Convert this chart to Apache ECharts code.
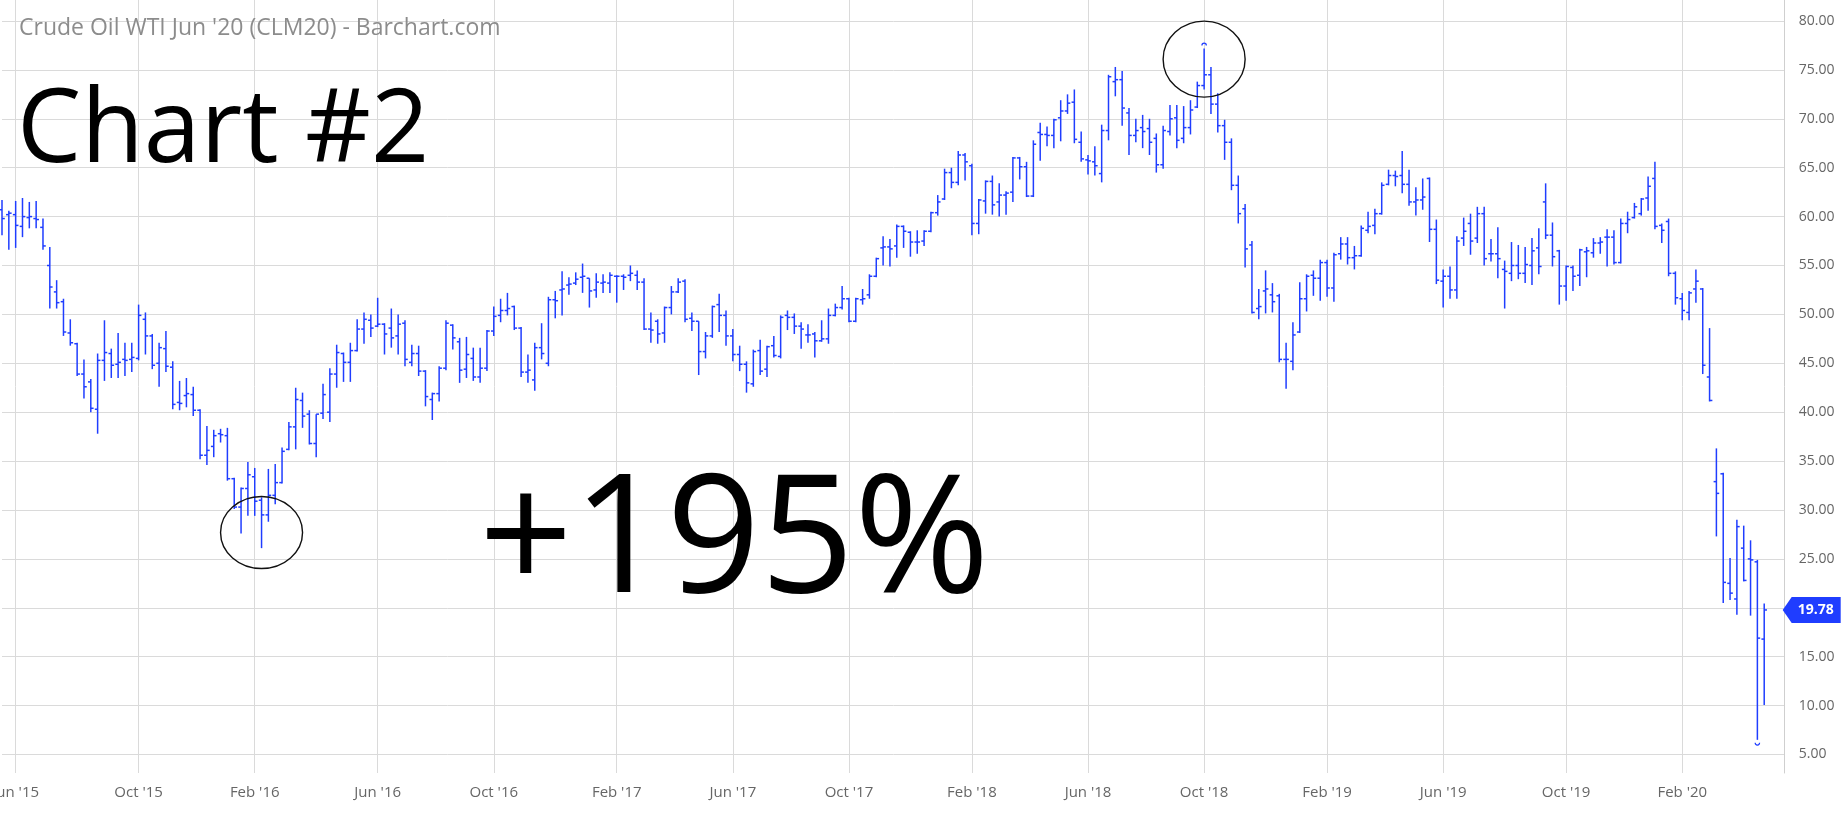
<!DOCTYPE html>
<html><head><meta charset="utf-8">
<script src="https://cdn.jsdelivr.net/npm/echarts@6/dist/echarts.min.js"></script>
<style>html,body{margin:0;padding:0;background:#fff;overflow:hidden}#c{width:1848px;height:825px}</style>
</head><body><div id="c"></div>
<script>
// ---- data (weekly OHLC, first bar = week of 2015-05-18) ----
const firstWeek = [2015, 4, 18];
const opens = [
60.7,60.2,60.2,59.0,59.9,59.8,58.9,55.0,52.3,51.3,
48.1,47.0,43.9,43.1,40.3,45.3,46.0,44.9,45.4,45.4,
45.5,49.5,47.8,45.0,46.5,44.6,41.0,41.7,41.8,40.2,
35.6,36.5,37.8,37.6,33.2,30.3,32.2,33.4,31.0,29.5,
31.5,32.8,36.2,38.5,41.2,39.8,36.8,39.9,40.0,43.9,
46.0,45.1,46.3,48.5,49.4,48.8,49.0,48.6,47.8,49.1,
45.1,46.0,44.2,41.3,41.9,44.5,48.9,47.2,44.4,45.5,
43.6,44.5,48.3,49.9,50.4,50.8,48.6,44.1,43.3,46.6,
45.0,51.5,52.5,53.0,53.2,53.8,53.7,52.5,53.2,53.2,
53.9,53.9,54.0,54.0,53.3,48.5,49.3,48.1,50.7,52.3,
53.4,49.6,49.3,46.2,47.8,51.0,49.9,47.8,45.9,44.9,
42.9,46.3,44.4,46.8,45.7,49.9,49.7,48.8,47.9,48.0,
47.3,47.5,49.9,50.7,51.6,49.3,51.5,52.0,53.9,56.8,
56.9,57.0,59.0,58.4,57.4,57.5,58.5,60.4,61.8,64.5,
63.5,66.3,65.2,59.3,61.6,63.6,61.5,62.2,62.5,66.0,
65.1,62.1,68.6,68.4,68.3,70.1,70.8,71.7,67.6,65.8,
65.6,64.4,68.8,73.8,74.0,70.6,68.3,69.1,69.0,68.0,
65.3,68.7,70.1,68.0,69.1,71.2,73.4,74.5,71.5,69.3,
67.6,63.2,60.8,57.1,50.6,52.4,52.0,51.9,45.4,45.2,
48.2,51.6,54.0,53.7,55.3,52.7,56.2,57.2,55.8,56.0,
58.6,59.1,60.3,63.3,64.2,64.2,63.3,61.5,61.7,63.9,
58.7,53.4,53.9,52.5,57.8,59.3,57.8,60.3,56.2,56.2,
54.6,54.2,55.0,54.2,55.0,56.8,61.5,58.1,56.5,52.9,
54.8,54.0,56.4,56.3,57.3,57.9,57.9,55.3,59.3,59.9,
60.3,61.9,63.9,59.1,59.5,54.2,51.6,50.2,52.6,52.6,
43.6,32.9,33.7,22.5,20.9,26.1,25.0,24.7,16.8];
const highs = [
61.7,60.6,61.6,61.9,61.5,61.6,59.8,56.9,53.5,51.6,
49.5,47.1,45.4,43.4,46.0,49.4,46.5,48.1,47.1,47.1,
51.0,50.2,48.0,47.1,48.3,45.2,43.2,43.5,42.6,40.3,
38.6,38.2,38.3,38.4,33.3,32.3,34.9,34.3,31.3,34.2,
34.7,36.4,39.0,42.5,42.0,40.2,39.8,42.9,44.5,46.9,
46.1,47.1,49.5,50.2,50.0,51.7,49.1,50.6,50.0,49.4,
46.9,46.8,44.3,42.0,44.7,49.4,49.0,47.6,47.7,46.6,
46.6,48.4,50.8,51.6,52.2,50.9,48.7,45.9,47.1,49.1,
51.8,52.4,54.4,53.8,54.3,55.2,53.7,54.2,54.1,54.3,
54.0,54.1,55.0,54.5,53.7,50.2,49.5,50.8,52.9,53.7,
53.6,50.2,49.3,48.2,50.9,52.1,50.4,48.5,46.8,45.2,
46.4,47.4,46.8,47.8,49.9,50.4,50.1,49.2,49.0,48.2,
49.4,50.6,51.1,52.9,51.7,51.7,52.6,54.1,55.8,58.0,
57.7,59.2,59.1,58.5,58.6,58.6,60.5,62.2,64.9,65.0,
66.7,66.5,65.4,61.8,63.7,64.2,63.4,62.6,66.1,66.1,
65.6,67.8,69.6,69.2,70.0,71.9,72.5,73.0,68.7,66.3,
67.2,69.4,74.5,75.3,74.9,71.1,70.0,70.4,70.0,68.5,
69.3,71.4,71.4,71.3,71.9,73.8,77.2,75.3,72.6,69.9,
68.0,64.2,61.3,57.5,52.6,54.5,53.2,52.1,47.1,49.2,
53.3,54.1,54.5,55.6,55.6,56.3,57.9,57.9,57.0,59.1,
60.5,60.8,63.5,64.8,64.7,66.7,64.8,63.0,63.9,64.0,
59.7,54.6,54.9,58.0,59.9,60.3,61.0,61.0,57.7,58.9,
55.5,57.4,57.1,56.9,57.8,58.8,63.4,59.4,56.6,55.0,
55.0,56.7,56.9,57.8,57.9,58.7,58.6,59.8,60.5,61.4,
61.9,64.1,65.6,59.3,59.8,54.4,52.2,52.4,54.6,52.7,
48.6,36.3,33.8,25.1,29.0,28.4,26.9,24.9,20.45];
const lows = [
58.1,56.6,56.8,57.9,58.8,58.8,56.6,50.6,50.6,47.8,
46.8,43.7,41.4,40.0,37.8,43.2,43.5,43.5,43.7,44.1,
45.3,45.9,44.4,42.6,44.1,40.3,40.2,40.5,39.6,35.2,
34.6,35.4,36.9,33.0,30.1,27.6,29.4,29.4,26.1,28.8,
30.6,32.7,36.1,36.2,38.4,36.7,35.4,39.3,39.0,42.5,
43.1,43.1,46.2,47.0,47.7,48.7,45.9,46.6,45.9,44.7,
44.7,43.7,40.6,39.2,41.1,44.3,46.4,43.0,43.5,43.2,
43.0,44.2,47.8,49.2,49.9,48.4,43.6,43.0,42.2,45.4,
44.7,49.6,49.9,52.0,53.0,52.2,50.7,51.7,52.2,52.2,
51.2,52.5,53.4,52.5,48.4,47.1,47.0,47.1,50.0,52.2,
49.2,48.3,43.8,45.5,47.6,48.2,46.8,45.2,44.2,42.0,
42.6,43.8,43.6,45.6,45.5,48.4,48.0,46.5,47.1,45.6,
47.2,47.0,49.8,50.5,49.2,49.2,51.0,51.6,53.8,55.0,
54.9,55.8,56.8,55.9,56.2,57.0,58.4,60.1,61.7,62.9,
63.2,63.7,58.1,58.2,60.3,60.2,60.0,60.2,61.5,63.8,
62.0,62.0,65.7,67.2,67.0,67.7,70.5,67.5,65.6,64.3,
64.2,63.5,67.8,72.3,69.3,66.3,67.6,67.0,66.3,64.5,
64.9,68.3,67.0,67.5,68.4,71.1,73.0,70.5,68.6,65.8,
62.7,59.3,54.8,50.1,49.5,50.1,50.2,45.1,42.4,44.3,
48.1,50.3,51.9,51.4,51.8,51.3,55.6,55.1,54.6,55.9,
58.3,58.2,60.2,63.2,63.1,62.4,61.1,60.1,60.7,57.4,
53.1,50.7,51.6,51.6,57.0,56.1,57.3,55.0,55.4,53.7,
50.6,53.4,53.6,53.2,53.0,54.1,57.7,54.9,51.0,51.4,
52.4,52.9,53.8,55.8,56.2,54.9,55.1,55.2,58.3,59.8,
60.1,60.6,58.7,57.3,53.9,51.0,49.4,49.4,51.2,43.9,
41.1,27.3,20.5,20.8,19.3,22.7,19.2,6.5,10.05];
const closes = [
59.8,60.35,59.1,60.0,60.0,59.7,57.0,52.8,51.2,48.2,
47.1,43.9,42.6,40.4,45.3,46.1,44.8,45.1,45.3,45.6,
49.9,47.8,44.8,46.6,44.7,40.8,40.9,41.9,40.2,35.6,
36.1,37.6,37.7,33.2,30.3,32.2,33.6,30.9,29.5,31.5,
32.8,36.0,38.5,41.3,39.6,36.8,39.8,41.8,43.9,46.1,
45.1,46.3,48.5,49.5,48.6,49.0,48.0,47.6,49.0,45.4,
46.0,44.2,41.6,41.9,44.5,49.1,47.6,44.3,45.9,43.6,
44.5,48.3,49.8,50.4,50.6,48.6,44.1,44.3,46.6,46.0,
51.5,51.4,52.6,53.1,53.6,53.9,52.4,53.3,53.3,54.0,
53.9,53.8,54.2,53.3,48.5,48.4,48.0,50.7,52.3,53.3,
49.5,49.3,46.2,47.8,50.8,49.9,47.8,45.9,44.9,43.0,
46.2,44.2,46.7,45.8,49.7,49.7,48.8,48.5,47.9,47.3,
47.5,49.9,50.7,51.6,49.3,51.6,51.6,53.9,55.7,56.9,
56.7,59.0,58.5,57.4,57.4,58.5,60.4,61.5,64.5,63.5,
66.3,65.6,59.3,61.7,63.6,61.2,62.2,62.4,66.0,65.1,
62.1,67.4,68.4,68.3,69.9,70.8,71.6,67.9,65.9,65.7,
65.2,68.8,74.3,74.0,71.1,68.3,68.8,68.7,67.6,65.3,
68.8,70.0,67.8,69.1,70.9,73.4,74.5,71.5,69.3,67.6,
63.2,60.3,56.7,50.2,50.8,52.6,51.3,45.4,45.4,47.9,
51.6,53.9,53.7,55.3,52.7,56.1,57.2,55.8,56.0,58.8,
59.0,60.3,63.2,64.2,64.1,63.3,61.5,61.7,62.0,58.7,
53.5,53.9,52.5,57.5,58.5,57.5,60.3,55.7,56.2,55.7,
54.4,55.0,54.2,55.1,56.5,54.9,58.1,55.9,52.9,54.9,
53.9,56.6,56.5,57.3,57.4,57.9,55.3,59.3,59.7,61.0,
61.8,63.1,59.0,58.6,54.2,51.7,50.4,52.2,53.4,44.8,
41.2,31.7,22.6,21.5,28.3,22.8,24.9,16.9,19.78];
const lastPrice = 19.78;
const yMin = 5, yMax = 80, yStep = 5;
const labelMonths = [1, 5, 9]; // Feb, Jun, Oct
const monthNames = ['Jan','Feb','Mar','Apr','May','Jun','Jul','Aug','Sep','Oct','Nov','Dec'];
const circledBars = [{index: 38, value: 27.7}, {index: 176, value: 76.1}];
const titleText = "Crude Oil WTI Jun '20 (CLM20) - Barchart.com";
const chartLabel = 'Chart #2';
const changeLabel = '+195%';

// ---- build ----
const nCats = closes.length + 3;
const weeks = [];
const t0 = Date.UTC(firstWeek[0], firstWeek[1], firstWeek[2]);
for (let i = 0; i < nCats; i++) weeks.push(new Date(t0 + i * 7 * 86400000));
const cats = weeks.map(d => d.toISOString().slice(0, 10));
function isMonthStart(i) {
  if (i <= 0) return false;
  const m = weeks[i].getUTCMonth();
  return labelMonths.indexOf(m) >= 0 && weeks[i - 1].getUTCMonth() !== m;
}
const ohlc = closes.map((c, i) => [i, opens[i], highs[i], lows[i], c]);
let hiIdx = 0, loIdx = 0;
highs.forEach((v, i) => { if (v > highs[hiIdx]) hiIdx = i; });
lows.forEach((v, i) => { if (v < lows[loIdx]) loIdx = i; });

const BLUE = '#1f3dff';
const GRID = '#dadada';
const FONT = 'Open Sans';
const L = 2, R = 63.3;

const option = {
  animation: false,
  backgroundColor: '#ffffff',
  grid: [
    {left: L, right: R, top: 21, bottom: 70.5, containLabel: false, outerBoundsMode: 'none'},
    {left: L, right: R, top: 0, bottom: 52, containLabel: false, outerBoundsMode: 'none'}
  ],
  xAxis: [
    {gridIndex: 0, type: 'category', data: cats, boundaryGap: false, show: false},
    {gridIndex: 1, type: 'category', data: cats, boundaryGap: false,
     axisLine: {show: false}, axisTick: {show: false},
     axisLabel: {interval: (i) => isMonthStart(i), margin: 12, fontSize: 15, color: '#666', fontFamily: FONT,
       alignMinLabel: 'center', alignMaxLabel: 'center', hideOverlap: false,
       formatter: (v) => { const d = new Date(v + 'T00:00:00Z'); return monthNames[d.getUTCMonth()] + " '" + String(d.getUTCFullYear()).slice(2); }},
     splitLine: {show: true, interval: (i) => isMonthStart(i), lineStyle: {color: GRID, width: 1}}}
  ],
  yAxis: [
    {gridIndex: 0, type: 'value', position: 'right', min: yMin, max: yMax, interval: yStep,
     axisLine: {show: false}, axisTick: {show: false},
     axisLabel: {margin: 14, fontSize: 14, color: '#666', fontFamily: FONT, formatter: (v) => v.toFixed(2)},
     splitLine: {show: true, lineStyle: {color: GRID, width: 1}}},
    {gridIndex: 1, type: 'value', position: 'right', min: 0, max: 1,
     axisLine: {show: true, lineStyle: {color: '#cfcfcf', width: 1}}, axisTick: {show: false},
     axisLabel: {show: false}, splitLine: {show: false}}
  ],
  series: [{
    type: 'custom', xAxisIndex: 0, yAxisIndex: 0, data: ohlc,
    encode: {x: 0, y: [1, 2, 3, 4]}, clip: false,
    renderItem: function (params, api) {
      const x = api.value(0);
      const o = api.coord([x, api.value(1)]);
      const h = api.coord([x, api.value(2)]);
      const l = api.coord([x, api.value(3)]);
      const c = api.coord([x, api.value(4)]);
      const px = o[0];
      const t = 2.8;
      const st = {stroke: BLUE, lineWidth: 1.5};
      const kids = [
        {type: 'line', shape: {x1: px, y1: h[1], x2: px, y2: l[1]}, style: st},
        {type: 'line', shape: {x1: px - t, y1: o[1], x2: px, y2: o[1]}, style: st},
        {type: 'line', shape: {x1: px, y1: c[1], x2: px + t, y2: c[1]}, style: st}
      ];
      if (params.dataIndex === hiIdx) {
        kids.push({type: 'arc', shape: {cx: px, cy: h[1] - 3, r: 2.2, startAngle: Math.PI, endAngle: 2 * Math.PI}, style: {stroke: BLUE, lineWidth: 1.2, fill: 'none'}});
      }
      if (params.dataIndex === loIdx) {
        kids.push({type: 'arc', shape: {cx: px, cy: l[1] + 3, r: 2.2, startAngle: 0, endAngle: Math.PI}, style: {stroke: BLUE, lineWidth: 1.2, fill: 'none'}});
      }
      return {type: 'group', children: kids};
    }
  }]
};

const chart = echarts.init(document.getElementById('c'));
chart.setOption(option);

const g = [
  {type: 'text', left: 19, top: 17, z: 10, style: {text: titleText, fontSize: 23, fontFamily: FONT, fill: '#8c8c8c'}},
  {type: 'text', left: 17, top: 82, z: 10, style: {text: chartLabel, fontSize: 102, fontFamily: FONT, fill: '#000'}},
  {type: 'text', left: 479, top: 463, z: 10, style: {text: changeLabel, fontSize: 164, fontFamily: FONT, fill: '#000'}}
];
const ell = [{rx: 41, ry: 36}, {rx: 41, ry: 38}];
circledBars.forEach((cb, k) => {
  const p = chart.convertToPixel({gridIndex: 0}, [cb.index, cb.value]);
  g.push({type: 'ellipse', z: 10, shape: {cx: p[0], cy: p[1], rx: ell[k].rx, ry: ell[k].ry},
          style: {fill: 'none', stroke: '#111', lineWidth: 1.4}});
});
const lp = chart.convertToPixel({gridIndex: 0}, [0, lastPrice]);
const ax = 1848 - R;
const bh = 13;
g.push({type: 'polygon', z: 20, shape: {points: [[ax - 2, lp[1]], [ax + 7, lp[1] - bh], [ax + 56, lp[1] - bh], [ax + 56, lp[1] + bh], [ax + 7, lp[1] + bh]]},
        style: {fill: BLUE}});
g.push({type: 'text', z: 21, x: ax + 31, y: lp[1], style: {text: lastPrice.toFixed(2), fontSize: 14, fontWeight: 'bold', fontFamily: FONT, fill: '#fff', align: 'center', verticalAlign: 'middle'}});
chart.setOption({graphic: g});
</script>
</body></html>
